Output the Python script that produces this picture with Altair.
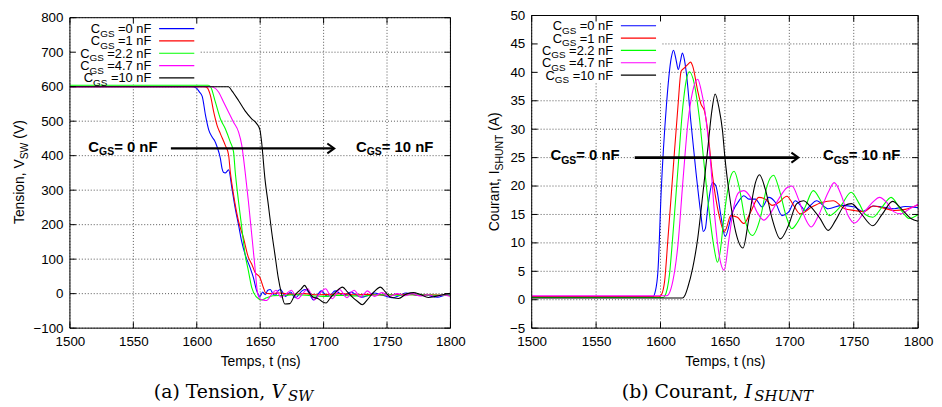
import altair as alt
import pandas as pd

# ---------------- data ----------------
series = ["0 nF", "1 nF", "2.2 nF", "4.7 nF", "10 nF"]
legend_suffix = ["=0 nF", "=1 nF", "=2.2 nF", "=4.7 nF", "=10 nF"]
colors = ["#0000ff", "#ff0000", "#00ff00", "#ff00ff", "#000000"]

x_ticks = [1500, 1550, 1600, 1650, 1700, 1750, 1800]
ya_ticks = [-100, 0, 100, 200, 300, 400, 500, 600, 700, 800]
yb_ticks = [-5, 0, 5, 10, 15, 20, 25, 30, 35, 40, 45, 50]

# (a) Tension V_SW
t_a_blue = [1500, 1597, 1600, 1602, 1604.3, 1606.9, 1609.5, 1612.1, 1614, 1616, 1618.6, 1619.9, 1621, 1622.5, 1624,
            1625.1, 1627.7, 1630.3, 1632.9, 1635.5, 1638.1, 1642, 1644.6, 1647.2, 1649.8, 1652, 1654, 1656, 1658, 1660,
            1662, 1664, 1666, 1668, 1670, 1672, 1674, 1676, 1678, 1680, 1683, 1686, 1688, 1690, 1692, 1694, 1696, 1698,
            1700, 1703, 1706, 1709, 1712, 1715, 1718, 1722, 1726, 1730, 1735, 1740, 1745, 1750, 1755, 1760, 1765, 1770,
            1775, 1780, 1785, 1790, 1795, 1800]
v_a_blue = [600, 600, 595, 585, 572, 517, 474, 454, 444, 426, 392, 363, 352, 350, 355, 359, 306, 248, 200, 150, 114, 76,
            47, 9, -8, 5, -3, 10, 12, 0, -5, 8, 12, 2, -8, -2, 5, -6, -12, -5, 8, 12, 5, -8, -18, -12, 0, 8, 2, -8, -2, 8,
            3, -5, -2, 5, -5, -10, -5, 2, -3, -8, -12, -5, 2, -2, -5, -3, -8, -10, -5, -3]
t_a_red = [1500, 1606, 1608.2, 1610.8, 1613.4, 1616, 1618.6, 1622.5, 1625.1, 1626.4, 1629, 1632.9, 1636.8, 1640.7, 1643.3,
           1645.9, 1649.8, 1652.5, 1654.3, 1657, 1665, 1675, 1685, 1695, 1705, 1715, 1725, 1735, 1745, 1755, 1765, 1775,
           1785, 1795, 1800]
v_a_red = [600, 600, 597, 574, 526, 488, 464, 430, 402, 354, 287, 210, 162, 105, 86, 62, 47, 18, 2, 0, 2, -2, 0, -3, -2,
           0, -3, -2, -4, -3, -2, -4, -3, -5, -5]
t_a_green = [1500, 1609, 1610.8, 1614.7, 1618.6, 1622.5, 1626.4, 1629, 1630.3, 1632.9, 1635.5, 1638.1, 1640.7, 1643.3,
             1647.2, 1651.1, 1655, 1660, 1670, 1680, 1690, 1700, 1710, 1720, 1730, 1740, 1750, 1760, 1770, 1780, 1790, 1800]
v_a_green = [604, 604, 600, 555, 507, 478, 440, 411, 354, 268, 191, 114, 66, 18, -10, -18, -12, -6, -5, -3, -6, -8, -5,
             -6, -7, -4, -3, -5, -3, -4, -5, -5]
t_a_mag = [1500, 1612, 1613.4, 1617.3, 1621.2, 1625.1, 1629, 1632.9, 1635.5, 1638.1, 1640.7, 1643.3, 1645.9, 1647.8,
           1649.8, 1652, 1655, 1659, 1662.5, 1666.5, 1670, 1674.5, 1679.5, 1683.5, 1687.5, 1692.5, 1697, 1701.5, 1707,
           1710, 1712.5, 1718.5, 1721, 1724, 1729, 1732, 1734.5, 1740, 1746, 1752, 1758, 1764, 1770, 1776, 1782, 1788,
           1794, 1800]
v_a_mag = [600, 600, 598, 584, 555, 526, 497, 469, 430, 354, 268, 172, 76, 5, -15, -18, -20, -2, 10, -10, -2, 10, -15, 0,
           14, -18, 0, 14, -15, 0, 12, -12, 0, 10, -10, 0, 8, -8, 3, -8, 0, -6, 0, -7, -3, -8, -4, -8]
t_a_black = [1500, 1625, 1627.7, 1632.9, 1638.1, 1643.3, 1647.2, 1649.8, 1651.1, 1653.7, 1656.4, 1659, 1661.6, 1664.2,
             1666.8, 1669.4, 1673.3, 1677.2, 1679.8, 1682.4, 1685, 1687.6, 1691.5, 1695.4, 1699.3, 1701.9, 1705.8, 1709.7,
             1714.9, 1718.8, 1722.7, 1726.6, 1730.5, 1734.4, 1739.6, 1744.8, 1748.7, 1752.6, 1759.1, 1765.6, 1770.8, 1776,
             1782.6, 1788, 1794, 1800]
v_a_black = [600, 600, 588, 560, 530, 507, 493, 475, 440, 335, 258, 181, 114, 47, 0, -30, -29, -5, 5, 14, 24, 10, -10,
             -14, -24, -27, -10, 5, 19, 5, -10, -22, -32, -18, 5, 19, 5, -10, -14, 0, 3, -2, -11, -8, -3, 1]

# (b) Courant I_SHUNT
t_b_blue = [1500, 1594, 1596, 1598, 1600.6, 1604.5, 1608.3, 1610.1, 1612, 1613.8, 1615.5, 1617, 1618.5, 1619.9, 1623.7,
            1627.6, 1631.4, 1633.2, 1634.8, 1636.6, 1640.4, 1643, 1646.8, 1650.2, 1655.8, 1660.9, 1664.7, 1668.6, 1673.7,
            1678.9, 1684, 1689.2, 1694.3, 1699.4, 1704.6, 1709.7, 1712.3, 1716, 1721.2, 1730.2, 1740.5, 1750.7, 1757,
            1765, 1772, 1781.5, 1790, 1800]
v_b_blue = [0.5, 0.5, 1.5, 5, 19.4, 33.9, 42.5, 43.9, 42.3, 40.5, 42, 43.4, 42.3, 40.2, 31, 22.3, 14.9, 12, 12.5, 16,
            20.6, 20, 14.9, 11.1, 15.4, 17.4, 18.3, 17.7, 17.7, 16.3, 18, 17.1, 14.8, 15.4, 17.4, 16.3, 15.7, 16.5, 17.4,
            16, 16.6, 16.3, 15.5, 16.5, 16.3, 16, 16.4, 16.2]
t_b_red = [1500, 1599, 1601, 1603.2, 1605.8, 1609.6, 1613.5, 1616, 1618.6, 1621.2, 1623.3, 1625, 1628.9, 1631.4, 1634,
           1636.6, 1640.4, 1645.5, 1649.4, 1651, 1654.5, 1659.7, 1664.7, 1669.9, 1676.3, 1681.4, 1686.6, 1691.7, 1698.1,
           1703.3, 1708.4, 1717.4, 1725.1, 1734.1, 1743, 1750.7, 1758, 1765, 1772, 1781.5, 1790, 1800]
v_b_red = [0.5, 0.5, 1, 3.3, 10.8, 22.3, 33.9, 40.2, 40.8, 41.4, 41.8, 41.1, 36.7, 34.4, 33.3, 29.8, 21.8, 14.8, 12,
           12.5, 14.8, 14.5, 13.4, 15.4, 18, 17.7, 16.6, 17.1, 18.2, 16.6, 15.1, 16.3, 17.1, 17.4, 16, 15.7, 15.5, 16.5,
           16.2, 15.7, 15.9, 16.7]
t_b_green = [1500, 1602, 1603.2, 1607, 1609.6, 1613.5, 1617.3, 1619.9, 1622.4, 1626.3, 1630.1, 1634, 1637.8, 1641.6,
             1644.2, 1646, 1649.4, 1653.2, 1657.1, 1660.9, 1666, 1671.2, 1677.6, 1682.7, 1687.8, 1692, 1698.1, 1701.9,
             1706, 1712.3, 1718.6, 1725.1, 1731, 1740, 1748, 1754, 1759, 1764.8, 1772, 1779, 1786, 1793.1, 1800]
v_b_green = [0.4, 0.4, 0.6, 4.5, 11.4, 22.9, 33.9, 38.5, 40.1, 37.9, 32.1, 23.5, 15.4, 9.1, 6.6, 8, 14.8, 20.6, 22.6, 20,
             13.7, 11.3, 14.5, 20, 21.9, 19.5, 14.3, 12.5, 13.5, 16.3, 19.2, 17.1, 14.8, 16.5, 18.9, 17, 15, 14.5, 16.3,
             18, 16, 14.3, 15]
t_b_mag = [1500, 1605, 1606.5, 1609.6, 1613.5, 1617.3, 1621.2, 1625, 1628.9, 1631.4, 1634, 1636.6, 1639.1, 1641.6,
           1645.5, 1649.4, 1653.2, 1657.1, 1660.9, 1664.7, 1669.9, 1675, 1680.2, 1685.3, 1691.7, 1698.1, 1702, 1707.1,
           1712, 1717, 1722, 1730.2, 1734.8, 1740.5, 1745.6, 1750.7, 1758.4, 1765, 1770, 1776, 1781, 1786.7, 1792, 1800]
v_b_mag = [0.7, 0.7, 1, 3.3, 9.6, 20.6, 31, 36.7, 38.8, 37, 33.9, 29.2, 23.5, 16, 7.9, 5.2, 10.8, 16.6, 18.9, 19.2, 18,
           15.4, 14, 15.2, 17.7, 19.7, 20, 17.7, 14.5, 12.8, 14.5, 18.9, 20.6, 18.3, 14.8, 13.5, 15.5, 17.2, 18, 17, 15.5,
           15.1, 15.8, 16.8]
t_b_black = [1500, 1617, 1619, 1621.2, 1625, 1628.9, 1632.7, 1636.6, 1639.9, 1642.4, 1645.5, 1648.1, 1650, 1653.2,
             1658.4, 1664, 1668.6, 1673.7, 1676.8, 1681.4, 1686.6, 1693, 1699.4, 1705.8, 1711, 1716, 1723.8, 1730.2,
             1736, 1743, 1748.2, 1755.9, 1764.8, 1772, 1780.2, 1787, 1794.4, 1800]
v_b_black = [0.3, 0.3, 0.8, 2.2, 5.6, 10.8, 18.3, 26.4, 33.3, 36.2, 33.6, 29.8, 25, 18.9, 11.9, 9.1, 14.3, 20.6, 22,
             19.4, 14.3, 10.7, 13.1, 16.9, 17.4, 16.5, 14.3, 12.2, 14, 16.6, 16.9, 15.1, 13, 15, 17.3, 16, 14.3, 13.8]

# annotation arrows (data coordinates)
arrow_a = {"t0": 1579.6, "t1": 1708.4, "v": 421}
arrow_b = {"t0": 1580.0, "t1": 1707.0, "v": 25}

# ---------------- helpers ----------------
FONT = "Liberation Sans"
SERIF = "DejaVu Serif"
AR = {' ': 278, '=': 584, '.': 278, ',': 278, '(': 333, ')': 333, 'C': 722, 'G': 778, 'S': 667, 'W': 944,
      'V': 667, 'H': 722, 'U': 722, 'N': 722, 'T': 611, 'I': 278, 'A': 667, 'F': 611, 'n': 556, 'e': 556,
      's': 500, 'i': 222, 'o': 556, 'a': 556, 'r': 333, 't': 278, 'u': 556, 'm': 833, 'p': 556}
for d in "0123456789":
    AR[d] = 556
ARB = dict(AR)
ARB.update({'n': 611})


def tw(s, size, bold=False):
    tab = ARB if bold else AR
    return sum(tab.get(c, 556) for c in s) * size / 1000.0


def long_df(ts, vs):
    rows = []
    for k, (name, t, v) in enumerate(zip(series, ts, vs)):
        if len(t) != len(v):
            raise ValueError(name)
        for tt, vv in zip(t, v):
            rows.append({"t": tt, "v": vv, "series": name, "k": k})
    return pd.DataFrame(rows)


ONE = pd.DataFrame({"d": [0]})


def txt(s, x, y, size, font=FONT, align="left", angle=0, bold=False, italic=False):
    kw = dict(align=align, baseline="alphabetic", font=font, fontSize=size, color="black")
    if angle:
        kw["angle"] = angle
    if bold:
        kw["fontWeight"] = "bold"
    if italic:
        kw["fontStyle"] = "italic"
    return alt.Chart(ONE).mark_text(**kw).encode(x=alt.value(x), y=alt.value(y), text=alt.value(s))


def cgs_label(x0, yb, main, sub, rest, bold):
    """C_GS style text starting at x0 (left), baseline yb."""
    w1 = tw("C", main, bold)
    w2 = tw("GS", sub, bold)
    return [txt("C", x0, yb, main, bold=bold),
            txt("GS", x0 + w1, yb + 3.5, sub, bold=bold),
            txt(rest, x0 + w1 + w2, yb, main, bold=bold)]


def panel(df, y_frame, y_top, y_ticks, W, H, oy, ytitle, ytitle_x, capt, cap_pos, arrow, arrow_w, ann, box_h,
          leg_y0):
    lo, hi = y_frame
    xs = alt.Scale(domain=[1500, 1800], nice=False, zero=False)
    ys = alt.Scale(domain=[lo, y_top], nice=False, zero=False)
    ax_x = alt.Axis(values=x_ticks, title="Temps, t (ns)", grid=False, labelFlush=False, format="d",
                    labelPadding=7, titlePadding=6, labelOverlap=False)
    ax_y = alt.Axis(values=y_ticks, title=None, grid=False, labelPadding=7, labelOverlap=False, format="d")
    X = lambda f: alt.X(f, scale=xs, axis=ax_x)
    Y = lambda f: alt.Y(f, scale=ys, axis=ax_y)

    ydf = pd.DataFrame({"v": y_ticks, "t": [1500] * len(y_ticks), "t2": [1800] * len(y_ticks)})
    xdf = pd.DataFrame({"t": x_ticks, "v": [lo] * len(x_ticks), "v2": [hi] * len(x_ticks)})
    grid_kw = dict(color="#555555", strokeDash=[1, 2], strokeWidth=1)

    layers = []
    # dotted grid
    layers.append(alt.Chart(ydf).mark_rule(**grid_kw).encode(y=Y("v:Q"), x=X("t:Q"), x2="t2:Q"))
    layers.append(alt.Chart(xdf).mark_rule(**grid_kw).encode(x=X("t:Q"), y=Y("v:Q"), y2="v2:Q"))
    # legend background box
    layers.append(alt.Chart(ONE).mark_rect(fill="white").encode(
        x=alt.value(1), x2=alt.value(131), y=alt.value(oy + 1), y2=alt.value(oy + box_h)))
    # curves
    layers.append(alt.Chart(df).mark_line(strokeWidth=1.1, interpolate="monotone", clip=True).encode(
        x=X("t:Q"), y=Y("v:Q"),
        color=alt.Color("series:N", scale=alt.Scale(domain=series, range=colors), legend=None),
        detail="k:N",
    ))
    # frame
    fdf = pd.DataFrame({"t": [1500], "t2": [1800], "v": [lo], "v2": [hi]})
    layers.append(alt.Chart(fdf).mark_rect(fillOpacity=0, stroke="black", strokeWidth=1).encode(
        x=X("t:Q"), x2="t2:Q", y=Y("v:Q"), y2="v2:Q"))
    # inner tick marks (gnuplot style)
    layers.append(alt.Chart(ydf).mark_rule(color="black").encode(y=Y("v:Q"), x=alt.value(0), x2=alt.value(6)))
    layers.append(alt.Chart(ydf).mark_rule(color="black").encode(y=Y("v:Q"), x=alt.value(W - 6), x2=alt.value(W)))
    layers.append(alt.Chart(xdf).mark_rule(color="black").encode(x=X("t:Q"), y=alt.value(H), y2=alt.value(H - 6)))
    layers.append(alt.Chart(xdf).mark_rule(color="black").encode(x=X("t:Q"), y=alt.value(oy), y2=alt.value(oy + 6)))
    # legend
    xr = 82.2
    for i, (suf, col) in enumerate(zip(legend_suffix, colors)):
        ry = oy + leg_y0 + 12.45 * i
        yb = ry + 4.6
        ws = tw(" " + suf, 13)
        wg = tw("GS", 10)
        xg = xr - ws - wg
        layers.append(txt("C", xg, yb, 13, align="right"))
        layers.append(txt("GS", xg, yb + 3.5, 10))
        layers.append(txt(suf, xr, yb, 13, align="right"))
        layers.append(alt.Chart(ONE).mark_rule(color=col, strokeWidth=1.2).encode(
            x=alt.value(90), x2=alt.value(125.5), y=alt.value(ry)))
    # annotation arrow
    adf = pd.DataFrame({"t": [arrow["t0"]], "t2": [arrow["t1"] - 1], "v": [arrow["v"]]})
    hdf = pd.DataFrame({"t": [arrow["t1"]], "v": [arrow["v"]]})
    layers.append(alt.Chart(adf).mark_rule(color="black", strokeWidth=arrow_w).encode(
        x=X("t:Q"), x2="t2:Q", y=Y("v:Q")))
    layers.append(alt.Chart(hdf).mark_point(shape="M -1.4 -1 L 0 0 L -1.4 1", filled=False, size=100,
                                            strokeWidth=2, color="black", opacity=1).encode(
        x=X("t:Q"), y=Y("v:Q")))
    (x0, x1, yb_ann) = ann
    layers += cgs_label(x0, yb_ann, 15, 10.5, "= 0 nF", True)
    layers += cgs_label(x1, yb_ann, 15, 10.5, "= 10 nF", True)
    # rotated y title with subscript
    main, sub, tail = ytitle
    wm, wsub, wsp, wt = tw(main, 14), tw(sub, 10.5), tw(" ", 14), tw(tail, 14)
    total = wm + wsub + wsp + wt
    bottom = oy + (H - oy) / 2 + total / 2
    junction = bottom - wm
    layers.append(txt(main, ytitle_x, junction, 14, align="right", angle=270))
    layers.append(txt(sub, ytitle_x + 3.5, junction, 10.5, align="left", angle=270))
    layers.append(txt(tail, ytitle_x, junction - wsub - wsp, 14, align="left", angle=270))
    # caption
    c_main, c_it, c_sub = capt
    (xe, xi, xsb, cb) = cap_pos
    layers.append(txt(c_main, xe, cb, 19, font=SERIF, align="right"))
    layers.append(txt(c_it, xi, cb, 19, font=SERIF, italic=True))
    layers.append(txt(c_sub, xsb, cb + 4, 15, font=SERIF, italic=True))
    return alt.layer(*layers).properties(width=W, height=H)


df_a = long_df([t_a_blue, t_a_red, t_a_green, t_a_mag, t_a_black],
               [v_a_blue, v_a_red, v_a_green, v_a_mag, v_a_black])
df_b = long_df([t_b_blue, t_b_red, t_b_green, t_b_mag, t_b_black],
               [v_b_blue, v_b_red, v_b_green, v_b_mag, v_b_black])

# both frames end at the same bottom; frame (a) starts a little lower than frame (b)
H = 315.5
OY_A = 2.2
top_a = 800 + OY_A * 900.0 / (H - OY_A)

pa = panel(df_a, (-100, 800), top_a, ya_ticks, 384, H, OY_A, ("Tension, V", "SW", "(V)"), -46,
           ("(a) Tension,", "V", "SW"), (197, 203.3, 220, 385.5), arrow_a, 2.2, (18.6, 288.6, 137.5), 67, 11.0)
pb = panel(df_b, (-5, 50), 50, yb_ticks, 390, H, 0, ("Courant, I", "SHUNT", "(A)"), -32.5,
           ("(b) Courant,", "I", "SHUNT"), (208.4, 214.7, 224.7, 385.5), arrow_b, 2.8, (19, 294, 146.0), 67.5, 10.3)

chart = alt.hconcat(pa, pb, spacing=22).properties(
    padding={"left": 4.5, "top": -2.25, "right": 0, "bottom": 0}
).configure_view(stroke="transparent").configure_axis(
    labelFont=FONT, labelFontSize=13.5, labelColor="black",
    titleFont=FONT, titleFontSize=14, titleFontWeight="normal", titleColor="black",
    grid=False, ticks=False, domain=False,
)

chart.save("out.html", embed_options={"renderer": "svg", "actions": False})
